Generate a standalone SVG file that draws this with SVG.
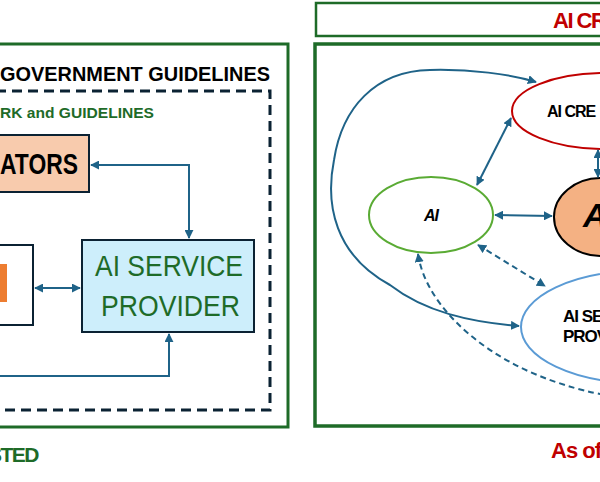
<svg xmlns="http://www.w3.org/2000/svg" width="600" height="482" viewBox="0 0 600 482">
  <defs>
    <style>
      .frame { fill: none; stroke: #1e6b28; }
      .box { stroke: #0b2233; stroke-width: 2; }
      .link { fill: none; stroke: #1f6388; stroke-width: 2; }
      .dash { stroke-dasharray: 6 4; }
      .t { font-family: "Liberation Sans", Arial, sans-serif; font-weight: bold; }
      .blk { fill: #000; }
      .grn { fill: #1e6b28; }
      .red { fill: #c00000; }
    </style>
    <marker id="ah" viewBox="0 0 10 10" refX="9" refY="5" markerWidth="4.5" markerHeight="4.5" orient="auto-start-reverse" markerUnits="strokeWidth">
      <path d="M0 0 L10 5 L0 10 Z" fill="#1f6388"/>
    </marker>
  </defs>

  <!-- left panel: governance frame -->
  <g id="gov-frame">
    <rect class="frame" x="-20" y="44" width="308" height="383" stroke-width="3"/>
    <text class="t blk" x="0" y="81" font-size="21" textLength="270" lengthAdjust="spacingAndGlyphs">GOVERNMENT GUIDELINES</text>
  </g>
  <g id="framework">
    <rect x="-20" y="91" width="290" height="319" fill="none" stroke="#0b2233" stroke-width="3" stroke-dasharray="10 6"/>
    <text class="t grn" x="0" y="118" font-size="15" textLength="154" lengthAdjust="spacingAndGlyphs">RK and GUIDELINES</text>
  </g>
  <g id="regulators">
    <rect class="box" x="-20" y="135" width="109" height="57" fill="#f8cbad"/>
    <text class="t blk" x="0" y="174" font-size="30" textLength="78" lengthAdjust="spacingAndGlyphs">ATORS</text>
  </g>
  <g id="left-node">
    <rect class="box" x="-20" y="245" width="53" height="80" fill="#fff"/>
    <rect x="-10" y="264" width="17" height="38" fill="#ed7d31"/>
  </g>
  <g id="service-provider">
    <rect class="box" x="82" y="240" width="172" height="92" fill="#cdeefb"/>
    <text class="grn" font-family="Liberation Sans, Arial, sans-serif" x="95" y="276" font-size="30" textLength="148" lengthAdjust="spacingAndGlyphs">AI SERVICE</text>
    <text class="grn" font-family="Liberation Sans, Arial, sans-serif" x="101" y="316" font-size="30" textLength="139" lengthAdjust="spacingAndGlyphs">PROVIDER</text>
  </g>
  <g id="left-caption">
    <text class="t grn" x="38" y="462" font-size="21" text-anchor="end" letter-spacing="-1.5">STED</text>
  </g>

  <!-- right panel -->
  <g id="title-bar">
    <rect class="frame" x="316" y="3" width="300" height="33" stroke-width="2.5"/>
    <text class="t red" x="553" y="28" font-size="22" letter-spacing="-1.5">AI CR</text>
  </g>
  <g id="ecosystem-frame">
    <rect class="frame" x="315" y="44" width="300" height="382" stroke-width="3.5"/>
  </g>
  <g id="ai-creator">
    <ellipse cx="605" cy="111" rx="93" ry="38" fill="#fff" stroke="#c00000" stroke-width="2"/>
    <text class="t blk" x="547" y="117" font-size="16" letter-spacing="-1">AI CRE</text>
  </g>
  <g id="ai">
    <ellipse cx="431" cy="215" rx="62" ry="38" fill="#fff" stroke="#5aab34" stroke-width="2"/>
    <text class="t blk" x="431" y="221" font-size="16" font-style="italic" text-anchor="middle" letter-spacing="-1">AI</text>
  </g>
  <g id="ai-user">
    <ellipse cx="601" cy="217" rx="47" ry="39" fill="#f4b183" stroke="#000" stroke-width="2"/>
    <text class="t blk" x="583" y="227" font-size="34" font-style="italic">A</text>
  </g>
  <g id="ai-service-provider">
    <ellipse cx="640" cy="327" rx="119" ry="56" fill="#fff" stroke="#5b9bd5" stroke-width="2"/>
    <text class="t blk" x="563" y="322" font-size="17" letter-spacing="-1">AI SE</text>
    <text class="t blk" x="563" y="342" font-size="17" letter-spacing="-1">PROV</text>
  </g>
  <g id="as-of">
    <text class="t red" x="551" y="458" font-size="22" letter-spacing="-1">As of</text>
  </g>

  <!-- connectors -->
  <g id="connectors">
    <path class="link" d="M91 165 H189 V238" marker-start="url(#ah)" marker-end="url(#ah)"/>
    <path class="link" d="M35 288 H80" marker-start="url(#ah)" marker-end="url(#ah)"/>
    <path class="link" d="M-10 376 H169 V334" marker-end="url(#ah)"/>

    <path class="link" d="M477 185 L511 118" marker-start="url(#ah)" marker-end="url(#ah)"/>
    <path class="link" d="M495 215 L552 216" marker-start="url(#ah)" marker-end="url(#ah)"/>
    <path class="link" d="M598 150 V177" marker-start="url(#ah)" marker-end="url(#ah)"/>
    <path class="link dash" d="M478 245 L545 286" marker-start="url(#ah)" marker-end="url(#ah)"/>
    <path class="link" d="M536 82 C510 74 470 69 430 70 C375 71 342 108 334 160 C325 205 335 255 390 285 C425 312 470 322 519 326" marker-start="url(#ah)" marker-end="url(#ah)"/>
    <path class="link dash" d="M418 254 C425 300 470 345 530 372 C560 385 590 393 612 396" marker-start="url(#ah)"/>
  </g>
</svg>
